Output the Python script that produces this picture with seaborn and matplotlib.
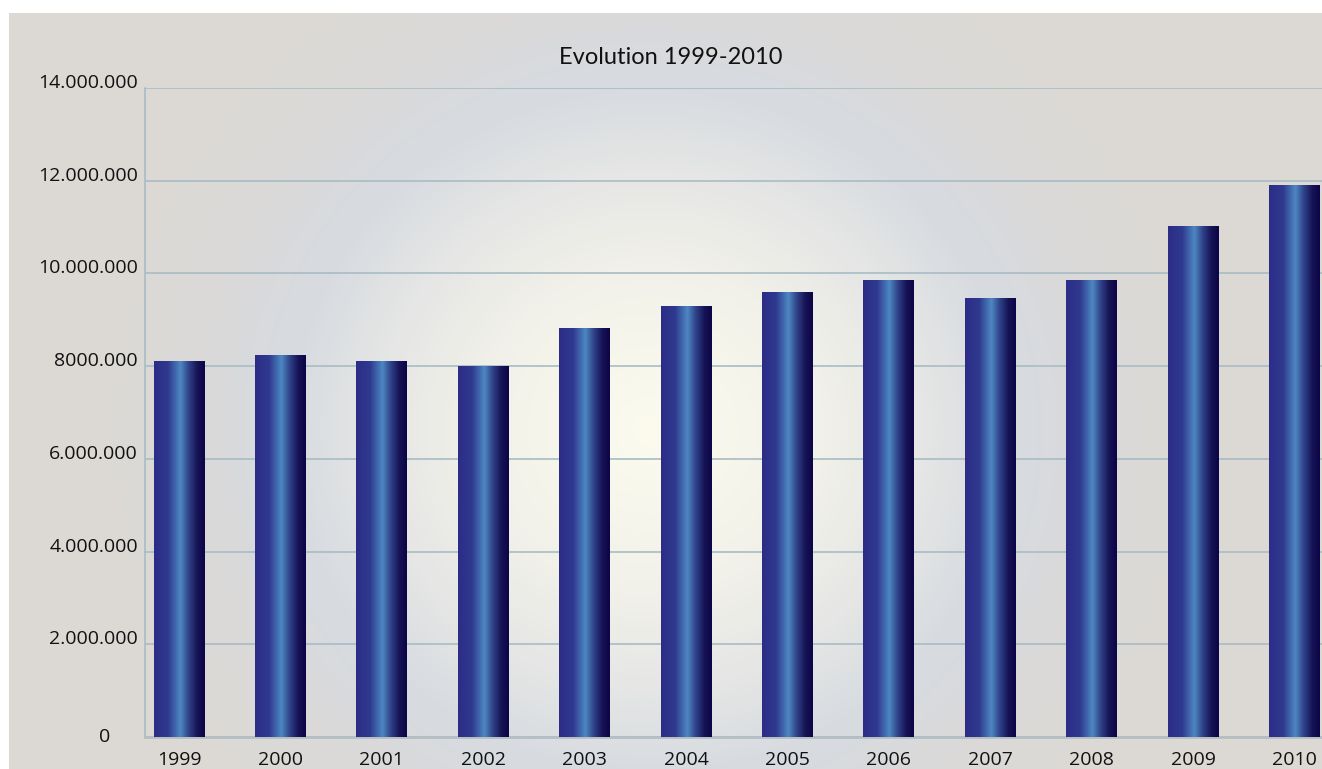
import numpy as np
import pandas as pd
import seaborn as sns
import matplotlib
matplotlib.use("Agg")
import matplotlib.pyplot as plt
from matplotlib.colors import LinearSegmentedColormap
from matplotlib.transforms import ScaledTranslation

years = ["1999", "2000", "2001", "2002", "2003", "2004", "2005", "2006",
         "2007", "2008", "2009", "2010"]
values = [8110000, 8240000, 8110000, 8000000, 8820000, 9280000, 9580000,
          9840000, 9450000, 9840000, 11020000, 11890000]
ytick_values = [0, 2000000, 4000000, 6000000, 8000000, 10000000, 12000000, 14000000]
ytick_labels = ["0", "2.000.000", "4.000.000", "6.000.000", "8000.000",
                "10.000.000", "12.000.000", "14.000.000"]
title = "Evolution 1999-2010"

sns.set_theme(style="white")
plt.rcParams['font.family'] = ['Open Sans', 'DejaVu Sans']

W, H = 1322, 769
fig = plt.figure(figsize=(W / 100, H / 100), dpi=100, facecolor="white")

# background radial gradient (figure level)
bx0, by_top = 9, 13
bg_ax = fig.add_axes([bx0 / W, 0, 1 - bx0 / W, (H - by_top) / H])
bg_ax.set_axis_off()
gw, gh = W - bx0, H - by_top
yy, xx = np.mgrid[0:gh, 0:gw]
cx, cy = 650 - bx0, 430 - by_top
r = np.sqrt(((xx - cx) / 1.05) ** 2 + (yy - cy) ** 2)
stops_r = [0, 150, 260, 345, 430, 510, 2000]
stops_c = ["#FCFBEE", "#F3F2EA", "#E5E6E5", "#D7DBE0", "#DAD9D9", "#DCD9D5", "#DCD9D5"]
rgb = np.array([matplotlib.colors.to_rgb(c) for c in stops_c])
img = np.zeros((gh, gw, 3))
for k in range(3):
    img[..., k] = np.interp(r, stops_r, rgb[:, k])
bg_ax.imshow(img, aspect="auto", extent=[0, 1, 0, 1], origin="upper")
bg_ax.set_xlim(0, 1)
bg_ax.set_ylim(0, 1)

# main axes
left_px, top_px, bottom_px = 145, 88, 737
spacing = 101.4
xmin, xmax = -0.335, 11.5
ax_w = (xmax - xmin) * spacing
ax = fig.add_axes([left_px / W, (H - bottom_px) / H, ax_w / W, (bottom_px - top_px) / H])
ax.set_facecolor("none")

df = pd.DataFrame({"year": years, "value": values})
sns.barplot(data=df, x="year", y="value", width=0.5, ax=ax, color="#2C2C86",
            saturation=1, zorder=3)

bar_cmap = LinearSegmentedColormap.from_list(
    "bar", [(0.0, "#2C2C86"), (0.28, "#2F3A8F"), (0.52, "#4D88C2"),
            (0.68, "#30438A"), (0.85, "#161456"), (1.0, "#0C0446")])
grad = np.linspace(0, 1, 256).reshape(1, -1)
for p in list(ax.patches):
    x0, y0, w, h = p.get_x(), p.get_y(), p.get_width(), p.get_height()
    ax.imshow(grad, cmap=bar_cmap, aspect="auto", extent=[x0, x0 + w, y0, y0 + h],
              zorder=3, interpolation="bicubic")
    p.set_visible(False)

ax.set_xlim(xmin, xmax)
ax.set_ylim(0, 14000000)
ax.set_yticks(ytick_values)
ax.set_yticklabels(ytick_labels)
ax.set_xlabel("")
ax.set_ylabel("")
ax.set_axisbelow(True)
ax.yaxis.grid(True, color="#A8BCC4", lw=1.2, zorder=0)
ax.xaxis.grid(False)
for s in ["top", "right"]:
    ax.spines[s].set_visible(False)
ax.spines["left"].set_color("#A8BCC4")
ax.spines["left"].set_linewidth(1.2)
ax.spines["bottom"].set_color("#B5BFC3")
ax.spines["bottom"].set_linewidth(2)
ax.tick_params(axis="both", length=0, colors="#111111")
ax.tick_params(axis="y", labelsize=14, pad=5)
ax.tick_params(axis="x", labelsize=14, pad=10)

for i, lab in enumerate(ax.get_yticklabels()):
    dx = -20 / 72 if i == 0 else 0
    dy = 1.5 / 72 if i == 0 else 5 / 72
    lab.set_transform(lab.get_transform() + ScaledTranslation(dx, dy, fig.dpi_scale_trans))

fig.text(671 / W, 1 - 58 / H, title, ha="center", va="center", fontsize=17,
         family=["Lato", "DejaVu Sans"], color="#111111")

fig.savefig("out.png", dpi=100, facecolor="white")
